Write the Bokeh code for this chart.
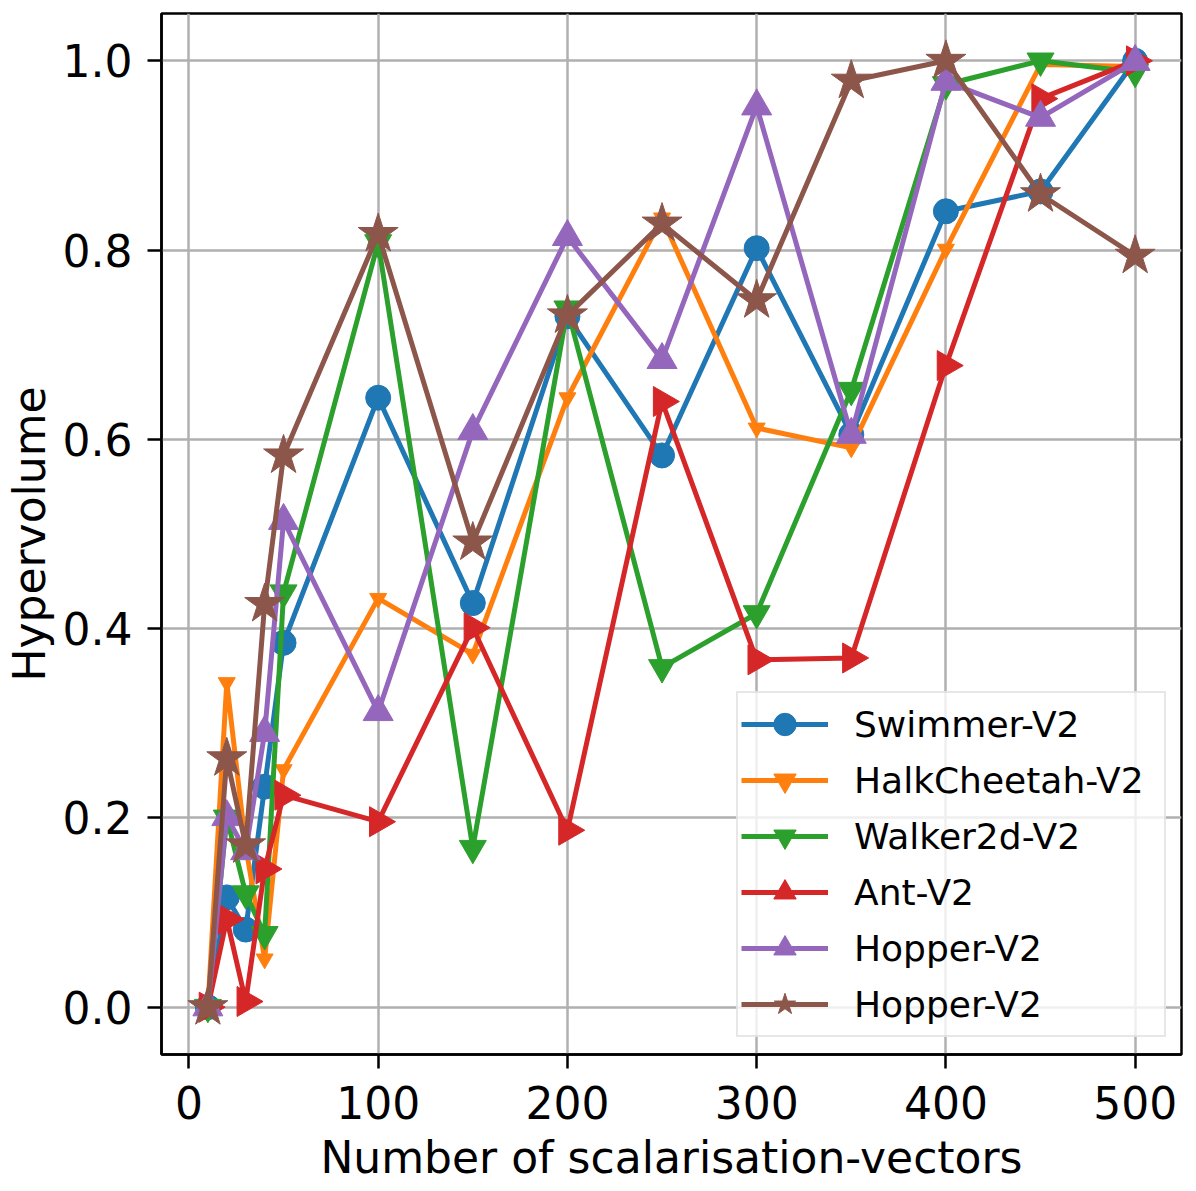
import math
from bokeh.plotting import figure
from bokeh.models import Range1d, FixedTicker, PrintfTickFormatter, Legend, LegendItem, ColumnDataSource
from bokeh.embed import file_html
from bokeh.resources import INLINE

# ---- data ----
n_vectors = [10, 20, 30, 40, 50, 100, 150, 200, 250, 300, 350, 400, 450, 500]
swimmer = [0.0, 0.116, 0.082, 0.233, 0.385, 0.644, 0.427, 0.730, 0.583, 0.802, 0.605, 0.841, 0.862, 1.0]
halfcheetah = [0.0, 0.343, 0.170, 0.051, 0.251, 0.432, 0.373, 0.644, 0.834, 0.612, 0.591, 0.801, 0.996, 0.994]
walker = [0.0, 0.200, 0.120, 0.077, 0.438, 0.808, 0.168, 0.738, 0.359, 0.416, 0.652, 0.975, 1.0, 0.988]
ant = [0.0, 0.093, 0.006, 0.146, 0.224, 0.196, 0.401, 0.187, 0.640, 0.367, 0.369, 0.678, 0.960, 1.0]
hopper = [0.0, 0.201, 0.165, 0.290, 0.514, 0.312, 0.609, 0.814, 0.684, 0.952, 0.605, 0.978, 0.940, 0.999]
hopper2 = [0.0, 0.263, 0.171, 0.426, 0.583, 0.817, 0.491, 0.731, 0.828, 0.747, 0.979, 1.0, 0.859, 0.794]

labels = ["Swimmer-V2", "HalkCheetah-V2", "Walker2d-V2", "Ant-V2", "Hopper-V2", "Hopper-V2"]
x_ticks = [0, 100, 200, 300, 400, 500]
y_ticks = [0.0, 0.2, 0.4, 0.6, 0.8, 1.0]

# ---- styles ----
colors = ["#1f77b4", "#ff7f0e", "#2ca02c", "#d62728", "#9467bd", "#8c564b"]
markers = ["circle", "inverted_triangle", "inverted_triangle", "triangle", "triangle", "star"]
sizes = [25, 17, 27, 30, 30, 42]
angles = [0, 0, 0, -math.pi / 2, 0, 0]
series = [swimmer, halfcheetah, walker, ant, hopper, hopper2]

FONT = "DejaVu Sans"

p = figure(
    frame_width=1020, frame_height=1041,
    x_range=Range1d(-14.5, 524.5), y_range=Range1d(-0.05, 1.05),
    output_backend="svg", toolbar_location=None,
    min_border_left=150, min_border_top=13, min_border_right=6, min_border_bottom=110,
)
p.background_fill_color = "white"
p.border_fill_color = "white"
p.outline_line_color = "black"
p.outline_line_width = 2.5

items = []
for ys, c, m, s, a, lab in zip(series, colors, markers, sizes, angles, labels):
    src = ColumnDataSource(dict(x=n_vectors, y=ys, ang=[a] * len(ys)))
    lr = p.line("x", "y", source=src, line_color=c, line_width=5)
    sr = p.scatter("x", "y", source=src, marker=m, size=s, angle="ang",
                   fill_color=c, line_color=c, line_width=1)
    items.append(LegendItem(label=lab, renderers=[lr, sr]))

# axes
p.xaxis.ticker = FixedTicker(ticks=x_ticks)
p.yaxis.ticker = FixedTicker(ticks=y_ticks)
p.yaxis.formatter = PrintfTickFormatter(format="%.1f")
for ax in (p.xaxis, p.yaxis):
    ax.axis_line_color = "black"
    ax.axis_line_width = 2.5
    ax.major_tick_line_color = "black"
    ax.major_tick_line_width = 2.5
    ax.major_tick_out = 14
    ax.major_tick_in = 0
    ax.minor_tick_line_color = None
    ax.major_label_text_font = FONT
    ax.major_label_text_font_size = "44px"
    ax.major_label_text_color = "black"
    ax.axis_label_text_font = FONT
    ax.axis_label_text_font_size = "44px"
    ax.axis_label_text_font_style = "normal"
    ax.axis_label_text_color = "black"
p.xaxis.major_label_standoff = 17
p.yaxis.major_label_standoff = 15
p.xaxis.axis_label = "Number of scalarisation-vectors"
p.yaxis.axis_label = "Hypervolume"
p.xaxis.axis_label_standoff = 10
p.yaxis.axis_label_standoff = 5

# grid
p.xgrid.grid_line_color = "#b0b0b0"
p.ygrid.grid_line_color = "#b0b0b0"
p.xgrid.grid_line_width = 2.5
p.ygrid.grid_line_width = 2.5

legend = Legend(
    items=items, location=(575, 17), margin=0,
    label_text_font=FONT, label_text_font_size="36px", label_text_color="black",
    glyph_width=87, glyph_height=56, label_height=56, label_width=307, spacing=0,
    label_standoff=26, padding=3,
    border_line_color="#d0d0d0", border_line_width=2,
    background_fill_color="white", background_fill_alpha=0.8,
)
p.add_layout(legend)

open("out.html", "w").write(file_html(p, INLINE))
